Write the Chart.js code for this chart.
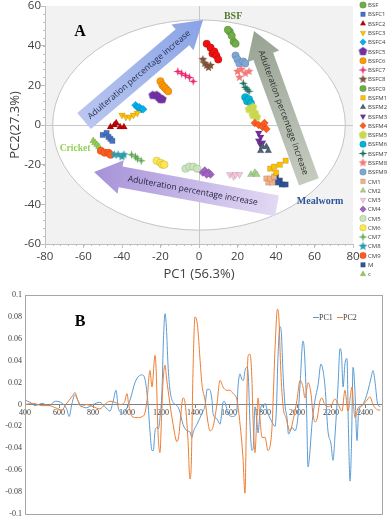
<!DOCTYPE html>
<html>
<head>
<meta charset="utf-8">
<script src="https://cdn.jsdelivr.net/npm/chart.js@4.4.1/dist/chart.umd.min.js"></script>
<style>
  html, body { margin: 0; padding: 0; background: #fff; }
  #wrap { position: relative; width: 388px; height: 518px; overflow: hidden; }
  #scoreCanvas { position: absolute; left: 0; top: 0; }
  #loadCanvas { position: absolute; left: 0; top: 282px; }
</style>
</head>
<body>
<div id="wrap">
  <canvas id="scoreCanvas" width="388" height="282"></canvas>
  <canvas id="loadCanvas" width="388" height="236"></canvas>
</div>
<script>
// ---- A: PCA scores, [PC1, PC2] per sample ----
const BSF   = [[15, 48], [17, 45], [19, 41]];
const BSFC1 = [[-50, -5], [-48, -4], [-47, -6], [-46, -7], [-45, -8]];
const BSFC2 = [[-46, -1], [-44, 0], [-43, 1], [-41, -1], [-39, -1]];
const BSFC3 = [[-40, 5], [-38, 4], [-36, 4], [-34, 5], [-32, 6]];
const BSFC4 = [[-33, 10], [-32, 9], [-31, 9], [-30, 8], [-29, 8]];
const BSFC5 = [[-24, 15], [-22, 15], [-21, 14], [-20, 13], [-19, 13]];
const BSFC6 = [[-20, 22], [-19, 20], [-18, 19], [-17, 18], [-16, 17]];
const BSFC7 = [[-11, 27], [-9, 26], [-7, 25], [-5, 24], [-3, 22]];
const BSFC8 = [[2, 33], [3, 31], [4, 30], [5, 29], [6, 30]];
const BSFC9 = [[16, 47], [18, 42]];
const BSFM1 = [[37, -22], [39, -21], [42, -20], [45, -18], [40, -24]];
const BSFM2 = [[32, -13], [33, -11], [35, -11], [36, -13]];
const BSFM3 = [[31, -4], [32, -6], [31, -8], [32, -10], [33, -9]];
const BSFM4 = [[29, 1], [31, 0], [33, -1], [34, 1], [35, -2]];
const BSFM5 = [[26, 8], [28, 9], [29, 6], [30, 4], [28, 5]];
const BSFM6 = [[24, 14], [25, 12], [26, 13], [27, 11]];
const BSFM7 = [[23, 21], [24, 19], [25, 18], [26, 17]];
const BSFM8 = [[20, 27], [22, 28], [24, 26], [21, 24], [26, 27]];
const BSFM9 = [[19, 35], [20, 33], [21, 31], [23, 32], [24, 31]];
const CM1 = [[35, -27], [36, -29], [38, -29], [37, -27], [39, -26]];
const CM2 = [[27, -25], [29, -24], [30, -25]];
const CM3 = [[16, -25], [18, -26], [19, -25], [21, -25]];
const CM4 = [[2, -24], [3, -23], [5, -24], [6, -25], [4, -25]];
const CM5 = [[-7, -22], [-5, -21], [-3, -21], [-1, -22]];
const CM6 = [[-22, -18], [-20, -19], [-19, -20], [-18, -20]];
const CM7 = [[-35, -15], [-33, -16], [-32, -17], [-30, -18]];
const CM8 = [[-44, -15], [-42, -15], [-40, -16], [-39, -15]];
const CM9 = [[-51, -13], [-49, -14], [-47, -14], [-46, -15]];
const M   = [[40, -26], [42, -28], [43, -30], [45, -30], [41, -29]];
const c   = [[-55, -8], [-54, -9], [-53, -10], [-52, -11]];
const redCluster = [[4, 41], [6, 39], [7, 36], [8, 37], [9, 35], [10, 33]]; // not in the key

const groupNames = ['BSF', 'BSFC1', 'BSFC2', 'BSFC3', 'BSFC4', 'BSFC5', 'BSFC6', 'BSFC7', 'BSFC8', 'BSFC9',
  'BSFM1', 'BSFM2', 'BSFM3', 'BSFM4', 'BSFM5', 'BSFM6', 'BSFM7', 'BSFM8', 'BSFM9',
  'CM1', 'CM2', 'CM3', 'CM4', 'CM5', 'CM6', 'CM7', 'CM8', 'CM9', 'M', 'c'];
const groupScores = [BSF, BSFC1, BSFC2, BSFC3, BSFC4, BSFC5, BSFC6, BSFC7, BSFC8, BSFC9,
  BSFM1, BSFM2, BSFM3, BSFM4, BSFM5, BSFM6, BSFM7, BSFM8, BSFM9,
  CM1, CM2, CM3, CM4, CM5, CM6, CM7, CM8, CM9, M, c];

// ---- B: loadings ----
const pc1Wavenumber = [400, 430, 460, 500, 540, 580, 620, 645, 660, 675, 694, 710, 730, 760, 800, 840, 870, 900, 920, 935, 950, 977,
  1000, 1018, 1047, 1070, 1088, 1106, 1124, 1135, 1147, 1155, 1165, 1176, 1185, 1194, 1206, 1214, 1224, 1232, 1241, 1253, 1271, 1294,
  1310, 1329, 1353, 1370, 1382, 1390, 1412, 1441, 1459, 1472, 1482, 1500, 1506, 1529, 1547, 1565, 1572, 1594, 1620, 1645, 1653, 1665,
  1675, 1685, 1694, 1706, 1714, 1724, 1735, 1742, 1753, 1765, 1771, 1782, 1794, 1800, 1812, 1829, 1853, 1871, 1880, 1888, 1900, 1908,
  1918, 1929, 1941, 1950, 1971, 1988, 2005, 2018, 2035, 2043, 2055, 2065, 2075, 2088, 2106, 2124, 2141, 2152, 2165, 2182, 2200, 2212,
  2224, 2241, 2253, 2262, 2271, 2282, 2294, 2302, 2312, 2320, 2330, 2340, 2353, 2362, 2382, 2400, 2418, 2435, 2447, 2458, 2475, 2490];
const pc1Loading = [0.004, 0.002, -0.001, 0.001, -0.001, 0.003, 0.001, -0.004, -0.011, 0.0, 0.009, 0.004, -0.001, -0.003, 0.0, 0.002, -0.002, -0.006, 0.004, 0.013, -0.004, -0.008,
  -0.003, 0.004, 0.02, 0.026, 0.027, 0.023, 0.0, -0.024, -0.042, -0.042, -0.024, -0.021, -0.022, -0.012, 0.013, 0.058, 0.083, 0.07, 0.037, 0.013, 0.002, -0.001,
  -0.006, -0.018, -0.024, -0.025, -0.03, -0.025, -0.018, -0.008, -0.001, 0.014, 0.014, 0.004, -0.008, -0.013, -0.018, 0.002, 0.003, -0.008, -0.011, -0.008, 0.016, 0.028,
  0.023, 0.022, 0.031, 0.034, 0.025, -0.02, -0.042, -0.04, -0.002, -0.017, -0.026, -0.008, 0.0, -0.002, 0.001, -0.008, -0.016, -0.02, 0.0, 0.043, 0.071, 0.065,
  0.028, 0.0, -0.012, -0.027, -0.021, -0.024, -0.012, 0.018, 0.058, 0.05, 0.004, -0.057, -0.045, -0.018, 0.004, 0.018, 0.037, 0.032, 0.016, -0.024, -0.036, -0.051,
  -0.027, 0.016, 0.051, 0.045, 0.016, 0.037, 0.042, -0.018, -0.07, -0.04, 0.034, 0.015, -0.033, -0.008, -0.001, 0.004, 0.013, 0.024, 0.031, 0.022, 0.0, -0.002];

const pc2Wavenumber = [400, 450, 500, 540, 580, 617, 640, 660, 680, 694, 710, 730, 760, 800, 840, 870, 900, 930, 960, 985,
  1000, 1010, 1030, 1060, 1090, 1105, 1118, 1135, 1147, 1165, 1172, 1182, 1194, 1203, 1212, 1224, 1232, 1253, 1271, 1294, 1305, 1315,
  1329, 1340, 1359, 1370, 1378, 1388, 1400, 1410, 1418, 1430, 1441, 1459, 1476, 1488, 1505, 1529, 1547, 1565, 1585, 1605, 1624, 1647,
  1665, 1682, 1694, 1702, 1712, 1723, 1733, 1743, 1753, 1762, 1771, 1780, 1794, 1812, 1829, 1853, 1860, 1871, 1885, 1893, 1905, 1918,
  1935, 1959, 1980, 2000, 2018, 2035, 2047, 2055, 2065, 2083, 2092, 2106, 2118, 2135, 2147, 2160, 2182, 2200, 2224, 2240, 2265, 2282,
  2300, 2324, 2332, 2341, 2360, 2382, 2412, 2429, 2447, 2460, 2476, 2490];
const pc2Loading = [0.0, 0.001, -0.001, -0.001, -0.003, -0.005, 0.0, 0.004, 0.008, 0.011, 0.004, -0.002, 0.0, -0.002, -0.004, 0.0, 0.003, 0.002, 0.0, 0.002,
  0.01, 0.0, -0.011, -0.012, -0.011, -0.008, 0.004, 0.031, 0.016, 0.045, 0.03, -0.024, -0.044, -0.012, 0.021, 0.036, 0.025, 0.0, -0.018, -0.034, -0.028, -0.012,
  0.006, 0.003, -0.033, -0.068, -0.055, 0.028, 0.08, 0.077, 0.067, 0.04, 0.018, 0.004, -0.016, -0.024, -0.021, 0.0, 0.022, 0.016, 0.013, 0.013, 0.01, 0.004,
  -0.018, -0.048, -0.081, -0.02, 0.044, 0.046, 0.03, -0.02, -0.044, -0.018, 0.006, -0.008, -0.03, -0.03, -0.042, -0.021, 0.006, 0.052, 0.087, 0.08, 0.03, -0.002,
  -0.012, -0.024, -0.012, 0.004, 0.022, 0.016, 0.006, 0.012, 0.02, 0.009, -0.006, -0.016, -0.013, 0.003, 0.006, 0.001, -0.002, -0.001, 0.005, 0.001, -0.006, 0.013,
  -0.006, 0.016, 0.0, -0.012, -0.003, -0.001, 0.004, 0.007, 0.0, -0.003, -0.005, -0.005];

// marker look per group: [shape, colour]
const groupStyles = {
  BSF: ['circle', '#70ad47'], BSFC1: ['rect', '#4472c4'], BSFC2: ['triangle', '#c00000'],
  BSFC3: ['triangleDown', '#ffc000'], BSFC4: ['rectRot', '#00b0f0'], BSFC5: ['pentagon', '#7030a0'],
  BSFC6: ['circle', '#ff9900'], BSFC7: ['plus4', '#e8246e'], BSFC8: ['star5', '#7b5439'],
  BSFC9: ['circle', '#70ad47'], BSFM1: ['rect', '#ffc000'], BSFM2: ['triangle', '#4f6177'],
  BSFM3: ['triangleDown', '#7030a0'], BSFM4: ['rectRot', '#ff5b1f'], BSFM5: ['pentagon', '#c9d84f'],
  BSFM6: ['circle', '#00b4d8'], BSFM7: ['plus4', '#1b6e5e'], BSFM8: ['star5', '#f47a7a'],
  BSFM9: ['circle', '#7ea7d8'], CM1: ['rect', '#f4b183'], CM2: ['triangle', '#a9d18e'],
  CM3: ['triangleDown', '#f8c6dc'], CM4: ['rectRot', '#a062c4'], CM5: ['circle', '#c9e5bb'],
  CM6: ['circle', '#ffe74c'], CM7: ['plus4', '#5fa552'], CM8: ['star5', '#2f9aa8'],
  CM9: ['circle', '#ff5b1f'], M: ['rect', '#2f5597'], c: ['triangle', '#92d050']
};

// small canvases for shapes Chart.js does not have
function shapeCanvas(kind, color, r) {
  const s = Math.ceil(r * 2 + 2);
  const cv = document.createElement('canvas');
  cv.width = s; cv.height = s;
  const g = cv.getContext('2d');
  const m = s / 2;
  let pts = [];
  if (kind === 'pentagon') {
    for (let i = 0; i < 5; i++) pts.push([r, -90 + i * 72]);
  } else if (kind === 'star5') {
    for (let i = 0; i < 10; i++) pts.push([i % 2 ? r * 0.45 : r, -90 + i * 36]);
  } else {
    for (let i = 0; i < 8; i++) pts.push([i % 2 ? r * 0.32 : r, -90 + i * 45]);
  }
  g.beginPath();
  pts.forEach(([rr, deg], i) => {
    const a = deg * Math.PI / 180;
    const px = m + rr * Math.cos(a), py = m + rr * Math.sin(a);
    i ? g.lineTo(px, py) : g.moveTo(px, py);
  });
  g.closePath();
  g.fillStyle = color;
  g.fill();
  return cv;
}

function buildScoreSet(name, i) {
  const [shape, color] = groupStyles[name];
  let pointStyle = shape, rotation = 0, radius = 4;
  if (shape === 'triangleDown') { pointStyle = 'triangle'; rotation = 180; }
  if (shape === 'pentagon' || shape === 'star5' || shape === 'plus4') pointStyle = shapeCanvas(shape, color, 4.5);
  if (shape === 'circle') radius = 3.8;
  if (shape === 'rect') radius = 3.8;
  return {
    label: name,
    inKey: true,
    data: groupScores[i].map(p => ({ x: p[0], y: p[1] })),
    pointStyle: pointStyle,
    rotation: rotation,
    pointRadius: radius,
    backgroundColor: color,
    borderColor: 'rgba(0,0,0,0.2)',
    borderWidth: 0.6
  };
}

const scoreSets = groupNames.map(buildScoreSet);
scoreSets.push({
  label: '', inKey: false,
  data: redCluster.map(p => ({ x: p[0], y: p[1] })),
  pointStyle: 'circle', pointRadius: 3.8,
  backgroundColor: '#f01010', borderColor: 'rgba(0,0,0,0.2)', borderWidth: 0.6
});

const arrows = [
  { tail: [-59.7, 2.0], tip: [2.1, 53], from: '#b9c6ef', to: '#8aa3e6', ink: '#1f2a4d' },
  { tail: [57.1, -28.7], tip: [28.6, 47.4], from: '#c5cbbf', to: '#98a394', ink: '#2b2b2b' },
  { tail: [40.5, -40.8], tip: [-54.5, -23.7], from: '#e2d9f3', to: '#a692d8', ink: '#1f1f3a' }
];

const tags = [
  { text: 'A', at: [-61.8, 46.9], font: 'bold 16px "Liberation Serif"', color: '#000' },
  { text: 'BSF', at: [17.7, 54.5], font: 'bold 10px "Liberation Serif"', color: '#4e7a2e' },
  { text: 'Cricket', at: [-64.4, -12.1], font: 'bold 9.5px "Liberation Serif"', color: '#92d050' },
  { text: 'Mealworm', at: [62.9, -38.3], font: 'bold 10px "Liberation Serif"', color: '#2e5597' }
];

function drawArrow(ctx, chart, a) {
  const xs = chart.scales.x, ys = chart.scales.y;
  const x0 = xs.getPixelForValue(a.tail[0]), y0 = ys.getPixelForValue(a.tail[1]);
  const x1 = xs.getPixelForValue(a.tip[0]), y1 = ys.getPixelForValue(a.tip[1]);
  const len = Math.hypot(x1 - x0, y1 - y0);
  const ang = Math.atan2(y1 - y0, x1 - x0);
  const shaft = 10.5, head = 17, headLen = 27;
  ctx.save();
  ctx.translate(x0, y0);
  ctx.rotate(ang);
  const grad = ctx.createLinearGradient(0, 0, len, 0);
  grad.addColorStop(0, a.from);
  grad.addColorStop(1, a.to);
  ctx.fillStyle = grad;
  ctx.beginPath();
  ctx.moveTo(0, -shaft);
  ctx.lineTo(len - headLen, -shaft);
  ctx.lineTo(len - headLen, -head);
  ctx.lineTo(len, 0);
  ctx.lineTo(len - headLen, head);
  ctx.lineTo(len - headLen, shaft);
  ctx.lineTo(0, shaft);
  ctx.closePath();
  ctx.fill();
  // caption along the shaft
  ctx.translate(len * 0.46, 0);
  if (Math.cos(ang) < 0) ctx.rotate(Math.PI);
  const text = 'Adulteration percentage increase';
  ctx.font = '10px "Open Sans"';
  const size = 10 * 132 / ctx.measureText(text).width;
  ctx.font = size.toFixed(2) + 'px "Open Sans"';
  ctx.fillStyle = a.ink;
  ctx.textAlign = 'center';
  ctx.textBaseline = 'middle';
  ctx.fillText(text, 0, 0.5);
  ctx.restore();
}

const scoreDecor = {
  id: 'scoreDecor',
  beforeDraw(chart) {
    const { ctx, chartArea: ca, scales: { x, y } } = chart;
    ctx.save();
    ctx.fillStyle = '#f2f2f2';
    ctx.fillRect(ca.left, ca.top, ca.right - ca.left, ca.bottom - ca.top);
    const cx = x.getPixelForValue(0), cy = y.getPixelForValue(0);
    const rx = x.getPixelForValue(76) - cx, ry = cy - y.getPixelForValue(53);
    ctx.beginPath();
    ctx.ellipse(cx, cy, rx, ry, 0, 0, Math.PI * 2);
    ctx.fillStyle = '#ffffff';
    ctx.fill();
    ctx.strokeStyle = '#b8b8b8';
    ctx.lineWidth = 0.8;
    ctx.stroke();
    ctx.restore();
  },
  beforeDatasetsDraw(chart) {
    arrows.forEach(a => drawArrow(chart.ctx, chart, a));
  },
  afterDraw(chart) {
    const { ctx, chartArea: ca, scales: { x, y } } = chart;
    ctx.save();
    // minor ticks
    ctx.strokeStyle = '#bfbfbf';
    ctx.lineWidth = 1;
    ctx.beginPath();
    for (let v = -80; v <= 80; v += 4) {
      const px = Math.round(x.getPixelForValue(v)) + 0.5;
      ctx.moveTo(px, ca.bottom); ctx.lineTo(px, ca.bottom + 2);
    }
    for (let v = -60; v <= 60; v += 4) {
      const py = Math.round(y.getPixelForValue(v)) + 0.5;
      ctx.moveTo(ca.left, py); ctx.lineTo(ca.left - 2, py);
    }
    ctx.stroke();
    // group tags
    ctx.textAlign = 'center';
    ctx.textBaseline = 'middle';
    tags.forEach(t => {
      ctx.font = t.font;
      ctx.fillStyle = t.color;
      ctx.fillText(t.text, x.getPixelForValue(t.at[0]), y.getPixelForValue(t.at[1]));
    });
    // key
    const drawPoint = Chart.helpers.drawPoint;
    let row = 0;
    ctx.textAlign = 'left';
    ctx.font = '6px "Open Sans"';
    chart.data.datasets.forEach(ds => {
      if (!ds.inKey) return;
      const ky = 5 + row * 9.28;
      ctx.fillStyle = ds.backgroundColor;
      ctx.strokeStyle = ds.borderColor;
      ctx.lineWidth = ds.borderWidth;
      drawPoint(ctx, { pointStyle: ds.pointStyle, rotation: ds.rotation, radius: 3.3, borderWidth: ds.borderWidth }, 363, ky);
      ctx.fillStyle = '#404040';
      ctx.fillText(ds.label, 368, ky + 0.5);
      row++;
    });
    ctx.restore();
  }
};

const tickFont = { family: 'Open Sans', size: 11.5 };

new Chart(document.getElementById('scoreCanvas'), {
  type: 'scatter',
  data: { datasets: scoreSets },
  options: {
    responsive: false,
    animation: false,
    layout: { padding: { left: 0, right: 35, top: 6, bottom: 0 } },
    plugins: { legend: { display: false }, tooltip: { enabled: false } },
    scales: {
      x: {
        min: -80, max: 80,
        ticks: { stepSize: 20, font: tickFont, color: '#404040', padding: 2, maxRotation: 0 },
        grid: { color: ctx => ctx.tick.value === 0 ? '#c8c8c8' : 'rgba(0,0,0,0)', tickColor: '#bfbfbf', tickLength: 4 },
        border: { color: '#bfbfbf' },
        title: { display: true, text: 'PC1 (56.3%)', font: { family: 'Open Sans', size: 13 }, color: '#404040', padding: { top: 0, bottom: 0 } },
        afterFit: s => { s.height = 38; s.paddingLeft = 0; s.paddingRight = 0; }
      },
      y: {
        min: -60, max: 60,
        ticks: { stepSize: 20, font: tickFont, color: '#404040', padding: 0 },
        grid: { color: ctx => ctx.tick.value === 0 ? '#c8c8c8' : 'rgba(0,0,0,0)', tickColor: '#bfbfbf', tickLength: 4 },
        border: { color: '#bfbfbf' },
        title: { display: true, text: 'PC2(27.3%)', font: { family: 'Open Sans', size: 13 }, color: '#404040', padding: { top: 7, bottom: 0 } },
        afterFit: s => { s.width = 45; s.paddingTop = 0; s.paddingBottom = 0; }
      }
    }
  },
  plugins: [scoreDecor]
});

// ---- B ----
const loadDecor = {
  id: 'loadDecor',
  afterDraw(chart) {
    const { ctx, chartArea: ca } = chart;
    ctx.save();
    ctx.strokeStyle = '#a6a6a6';
    ctx.lineWidth = 1;
    ctx.strokeRect(Math.round(ca.left) + 0.5, Math.round(ca.top) + 0.5, Math.round(ca.right - ca.left), Math.round(ca.bottom - ca.top));
    ctx.fillStyle = '#000';
    ctx.font = 'bold 16px "Liberation Serif"';
    ctx.textAlign = 'center';
    ctx.textBaseline = 'middle';
    ctx.fillText('B', 80, 40);
    // key
    ctx.font = '8px "Liberation Serif"';
    ctx.textAlign = 'left';
    let kx = 313;
    chart.data.datasets.forEach(ds => {
      ctx.strokeStyle = ds.borderColor;
      ctx.beginPath();
      ctx.moveTo(kx, 35.5); ctx.lineTo(kx + 6, 35.5);
      ctx.stroke();
      ctx.fillStyle = '#404040';
      ctx.fillText(ds.label, kx + 6, 35.5);
      kx += 24;
    });
    ctx.restore();
  }
};

const serifTicks = { family: 'Liberation Serif', size: 8 };

new Chart(document.getElementById('loadCanvas'), {
  type: 'line',
  data: {
    datasets: [
      { label: 'PC1', data: pc1Wavenumber.map((w, i) => ({ x: w, y: pc1Loading[i] })), borderColor: '#5b9bd5', borderWidth: 1, pointRadius: 0, cubicInterpolationMode: 'monotone', order: 1 },
      { label: 'PC2', data: pc2Wavenumber.map((w, i) => ({ x: w, y: pc2Loading[i] })), borderColor: '#ed7d31', borderWidth: 1, pointRadius: 0, cubicInterpolationMode: 'monotone', order: 0 }
    ]
  },
  options: {
    responsive: false,
    animation: false,
    layout: { padding: { left: 0, right: 6, top: 13, bottom: 4 } },
    plugins: { legend: { display: false }, tooltip: { enabled: false } },
    scales: {
      x: {
        type: 'linear',
        position: { y: 0 },
        min: 400, max: 2500,
        ticks: { stepSize: 200, includeBounds: false, font: serifTicks, color: '#404040', padding: 1, maxRotation: 0, autoSkip: false, callback: v => String(v) },
        afterBuildTicks: s => { s.ticks = s.ticks.filter(t => t.value % 200 === 0 && t.value <= 2400); },
        grid: { drawOnChartArea: false, tickLength: 3, tickColor: '#808080' },
        border: { color: '#808080' }
      },
      y: {
        min: -0.1, max: 0.1,
        ticks: { stepSize: 0.02, font: serifTicks, color: '#404040', padding: 3, callback: v => String(+v.toFixed(2)) },
        grid: { display: false, drawTicks: false },
        border: { display: false },
        afterFit: s => { s.width = 25; s.paddingTop = 0; s.paddingBottom = 0; }
      }
    }
  },
  plugins: [loadDecor]
});
</script>
</body>
</html>
